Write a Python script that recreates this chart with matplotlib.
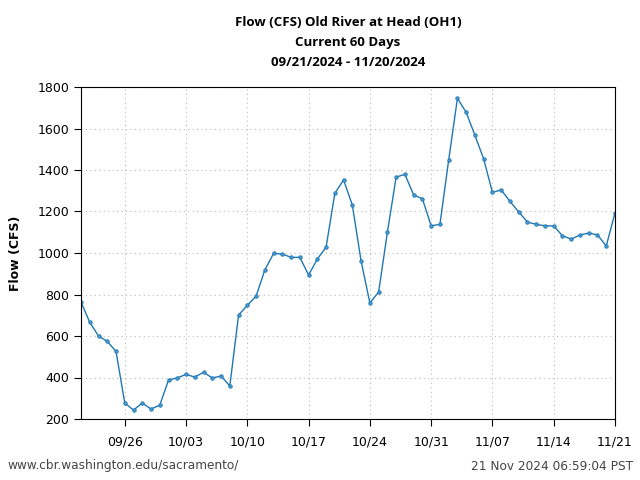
#!/usr/bin/env python3
# -*- coding: utf-8 -*-

import datetime as dt

import matplotlib
matplotlib.use("Agg")
import matplotlib.pyplot as plt
import matplotlib.dates as mdates


START = dt.date(2024, 9, 21)
FLOW = [
    764, 666, 600, 574, 526, 277, 243, 277, 248, 267,
    388, 398, 415, 402, 425, 398, 407, 359, 701, 748,
    792, 918, 998, 995, 979, 979, 894, 971, 1029, 1288,
    1352, 1230, 960, 759, 812, 1100, 1366, 1379, 1280, 1261,
    1131, 1138, 1448, 1745, 1678, 1567, 1453, 1292, 1304, 1249,
    1198, 1149, 1138, 1131, 1130, 1083, 1067, 1087, 1096, 1087,
    1034, 1193,
]
DATES = [START + dt.timedelta(days=i) for i in range(len(FLOW))]
TICK_DATES = [dt.date(2024, 9, 26) + dt.timedelta(days=7 * i) for i in range(9)]

TITLE = ["Flow (CFS) Old River at Head (OH1)", "Current 60 Days",
         "09/21/2024 - 11/20/2024"]
FOOT_LEFT = "www.cbr.washington.edu/sacramento/"
FOOT_RIGHT = "21 Nov 2024 06:59:04 PST"


def main():
    fig = plt.figure(figsize=(6.4, 4.8), dpi=100)
    ax = fig.add_axes([81 / 640, 61 / 480, 534 / 640, 332 / 480])

    ax.plot(DATES, FLOW, color="#1f77b4", linewidth=1.0, marker="o",
            markersize=2.5, markerfacecolor="#4a9bd1", markeredgewidth=0.6)

    ax.set_xlim(DATES[0], DATES[-1])
    ax.set_ylim(200, 1800)
    ax.set_yticks(range(200, 1801, 200))
    ax.set_xticks(TICK_DATES)
    ax.xaxis.set_major_formatter(mdates.DateFormatter("%m/%d"))
    ax.tick_params(axis="both", direction="out", length=5, labelsize=9)
    ax.tick_params(axis="x", pad=7)

    ax.grid(True, linestyle=(0, (1, 3)), color="#bbbbbb", linewidth=0.8)
    ax.set_ylabel("Flow (CFS)", fontsize=9, fontweight="bold", labelpad=11)

    # three title lines, placed one by one
    for i, line in enumerate(TITLE):
        fig.text(348 / 640, 1 - (23 + 19.5 * i) / 480, line, ha="center",
                 va="center", fontsize=9.5, fontweight="bold",
                 family="Open Sans")

    fig.text(7 / 640, 1 - 466 / 480, FOOT_LEFT, ha="left", va="center",
             fontsize=8.7, color="#444444")
    fig.text(633 / 640, 1 - 466 / 480, FOOT_RIGHT, ha="right", va="center",
             fontsize=8.7, color="#444444")

    fig.savefig("out.png", dpi=100)
    plt.close(fig)


if __name__ == "__main__":
    main()
